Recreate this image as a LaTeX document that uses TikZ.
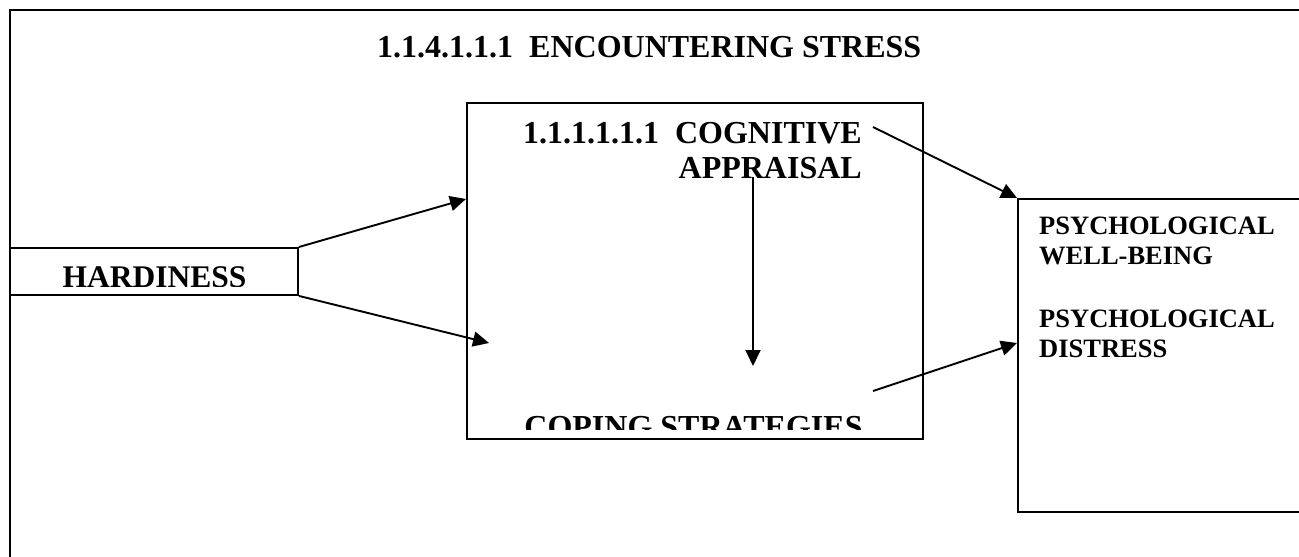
\documentclass[tikz,border=0pt]{standalone}
\usepackage{fontspec}
\setmainfont{Liberation Serif}
\usetikzlibrary{arrows.meta}
\begin{document}
\begin{tikzpicture}[x=1pt,y=-1pt,
  box/.style={draw,line width=1.9pt,inner sep=0pt,rectangle},
  arr/.style={line width=1.9pt,-{Triangle[length=16pt,width=15pt]}},
  txt/.style={inner sep=0pt,font=\bfseries\fontsize{32}{38}\selectfont},
  rtxt/.style={inner sep=0pt,font=\bfseries\fontsize{26.5}{30}\selectfont}]
\useasboundingbox (0,0) rectangle (1299,557);
% outer frame
\node[box,minimum width=1320pt,minimum height=600pt,anchor=north west] (frame) at (9,9) {};
% boxes
\node[box,minimum width=288pt,minimum height=47pt,anchor=north west,fill=white] (hard) at (9,247) {};
\node[box,minimum width=456pt,minimum height=336pt,anchor=north west] (mid) at (466,102) {};
\node[box,minimum width=320pt,minimum height=313pt,anchor=north west] (rb) at (1017,198) {};
% texts
\node[txt,anchor=base west] (title) at (377,57) {1.1.4.1.1.1\hspace{0.5em}ENCOUNTERING STRESS};
\node[txt,anchor=base east] (cog1) at (862,143) {1.1.1.1.1.1\hspace{0.5em}COGNITIVE};
\node[txt,anchor=base east] (cog2) at (862,178) {APPRAISAL};
\begin{scope}
  \clip (9,247) rectangle (297,286);
  \node[inner sep=0pt,font=\bfseries\fontsize{31.5}{36}\selectfont,anchor=base] (hardtxt) at (154.5,287) {HARDINESS};
\end{scope}
\begin{scope}
  \clip (466,102) rectangle (922,429);
  \node[txt,anchor=base] (coping) at (693.5,437) {COPING STRATEGIES};
\end{scope}
\node[rtxt,anchor=base west] (pw1) at (1039,234) {PSYCHOLOGICAL};
\node[rtxt,anchor=base west] (pw2) at (1039,264) {WELL-BEING};
\node[rtxt,anchor=base west] (pd1) at (1039,327) {PSYCHOLOGICAL};
\node[rtxt,anchor=base west] (pd2) at (1039,357) {DISTRESS};
% connector ends
\coordinate (m1) at (466,199);
\coordinate (m2) at (489,343);
\coordinate (c1) at (873,127);
\coordinate (v1) at (753,177);
\coordinate (v2) at (753,366);
\coordinate (s1) at (873,391);
\coordinate (r2) at (1017,343);
% arrows
\draw[arr] (hard.north east) -- (m1);
\draw[arr] (hard.south east) -- (m2);
\draw[arr] (c1) -- (rb.north west);
\draw[arr] (v1) -- (v2);
\draw[arr] (s1) -- (r2);
\end{tikzpicture}
\end{document}
